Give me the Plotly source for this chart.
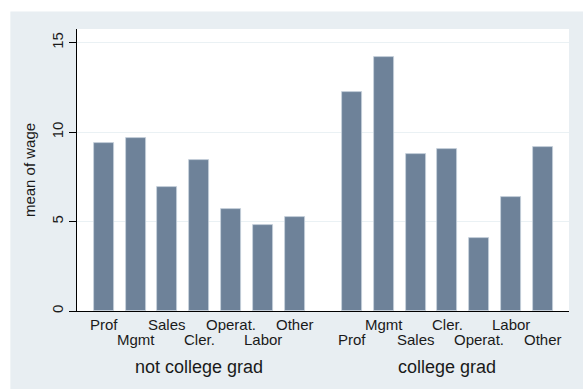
import plotly.graph_objects as go

# mean of wage by occupation, split by college graduation
occupations = ["Prof", "Mgmt", "Sales", "Cler.", "Operat.", "Labor", "Other"]
groups = ["not college grad", "college grad"]
wage_not_grad = [9.42, 9.65, 6.95, 8.42, 5.69, 4.83, 5.28]
wage_grad = [12.25, 14.18, 8.77, 9.07, 4.07, 6.36, 9.16]
y_ticks = [0, 5, 10, 15]

W, H = 583, 389
L, R, T, B = 76.7, 14, 28.5, 77.7
gap = 7.8  # start of second group, in bar slots

font = "Liberation Sans, Arial, sans-serif"
ink = "#1a1a1a"
barcol = "#6e8299"

x1 = list(range(len(occupations)))
x2 = [gap + i for i in range(len(occupations))]

fig = go.Figure()
fig.add_trace(go.Bar(x=x1 + x2, y=wage_not_grad + wage_grad, width=0.63,
                     marker=dict(color=barcol, line=dict(color="#c8d2dc", width=0.8)),
                     showlegend=False, hoverinfo="y"))

# staggered category labels, alternating rows across both groups
for k, (xx, lab) in enumerate(zip(x1 + x2, occupations + occupations)):
    fig.add_annotation(x=xx, xref="x", y=0, yref="paper", yanchor="middle",
                       yshift=-13 if k % 2 == 0 else -28.5, text=lab, showarrow=False,
                       font=dict(family=font, size=15, color=ink))

for xc, g in zip([x1[3], x2[3]], groups):
    fig.add_annotation(x=xc, xref="x", y=0, yref="paper", yanchor="middle",
                       yshift=-55.5, text=g, showarrow=False,
                       font=dict(family=font, size=18, color=ink))

pw = W - L - R
ph = H - T - B
fig.add_shape(type="rect", xref="paper", yref="paper", layer="below",
              x0=(10 - L) / pw, x1=1.1, y0=-0.4, y1=(H - B - 11) / ph,
              fillcolor="#e8eef2", line_width=0)
fig.add_shape(type="rect", xref="paper", yref="paper", layer="below",
              x0=0, x1=1, y0=0, y1=1, fillcolor="white", line_width=0)

fig.update_layout(
    width=W, height=H,
    margin=dict(l=L, r=R, t=T, b=B, pad=0),
    paper_bgcolor="white", plot_bgcolor="white",
    font=dict(family=font, size=15, color=ink),
    bargap=0,
    xaxis=dict(range=[-0.84, gap + 6 + 0.82], showticklabels=False, showgrid=False,
               zeroline=False, showline=True, linecolor="black", linewidth=1.2, ticks=""),
    yaxis=dict(range=[0, 15.77], tickvals=y_ticks, tickangle=-90, ticks="outside",
               ticklen=7, tickcolor="black", tickwidth=1, showline=True,
               linecolor="black", linewidth=1.2, zeroline=False, showgrid=True,
               gridcolor="#eaf1f4", gridwidth=1.2,
               tickfont=dict(size=15, color=ink),
               title=dict(text="mean of wage", font=dict(size=15, color=ink), standoff=9)),
)

fig.write_html("out.html", config={"displayModeBar": False},
               post_script="document.body.style.margin='0';")
